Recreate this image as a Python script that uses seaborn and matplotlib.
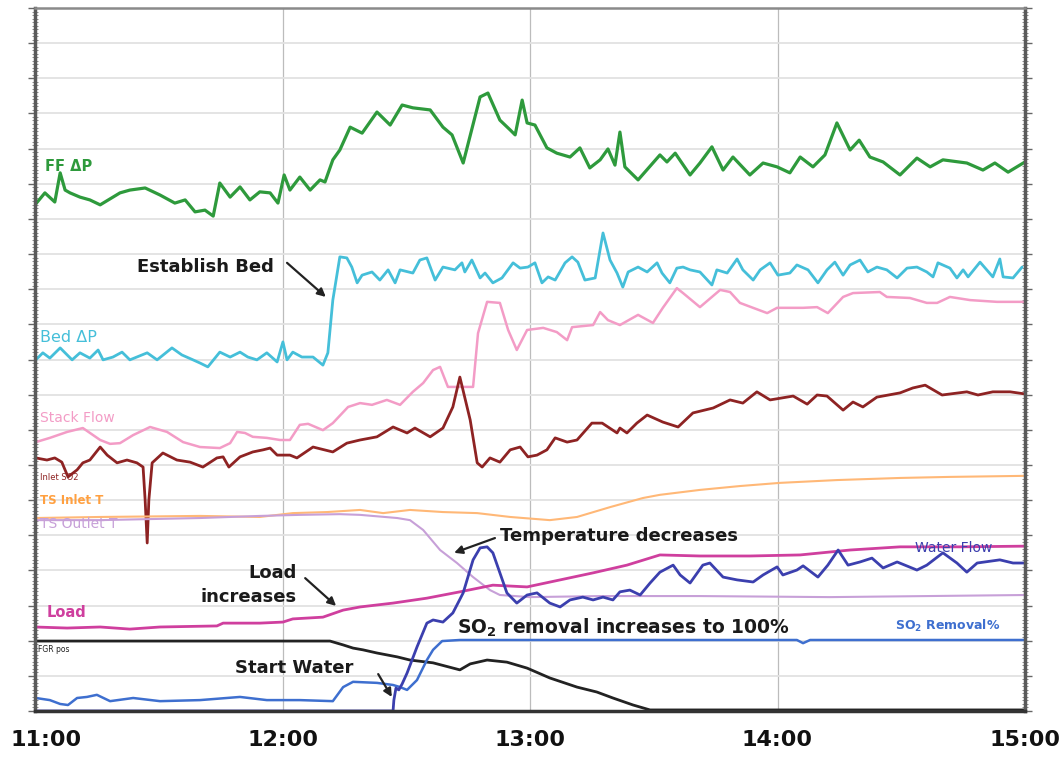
import matplotlib
matplotlib.use("Agg")
import matplotlib.pyplot as plt
from matplotlib.ticker import MultipleLocator, NullFormatter
from matplotlib.transforms import ScaledTranslation
import seaborn as sns

# ---------------- data (x: minutes after 11:00, y: chart units 0-20) ----------------
ff_t = [0, 2.4, 4.8, 6.1, 7.3, 8.5, 10.9, 13.3, 15.8, 18.2, 20.6, 23.0, 26.7, 30.3, 33.9, 36.4,
        38.8, 41.2, 43.2, 44.8, 47.3, 49.7, 52.1, 54.5, 57.0, 58.9, 60.4, 61.8, 64.2, 66.7, 69.1,
        70.3, 72.2, 73.9, 76.4, 79.3, 82.9, 86.1, 89.0, 91.6, 95.8, 98.9, 101.1, 103.8, 107.9,
        109.8, 112.7, 115.2, 116.4, 118.1, 119.3, 121.2, 124.1, 126.5, 129.7, 132.1, 134.5, 137.0,
        138.9, 140.6, 141.8, 143.0, 146.2, 151.5, 153.2, 155.2, 158.8, 161.2, 164.1, 166.8, 169.2,
        173.3, 176.5, 179.9, 183.0, 185.5, 188.6, 191.5, 194.4, 197.6, 199.8, 202.4, 205.6, 209.7,
        213.8, 217.0, 220.1, 225.9, 229.8, 232.7, 235.9, 240.0]
ff_v = [14.40, 14.74, 14.48, 15.31, 14.82, 14.74, 14.62, 14.54, 14.40, 14.57, 14.74, 14.82, 14.88,
        14.68, 14.45, 14.54, 14.20, 14.25, 14.08, 15.02, 14.62, 14.91, 14.54, 14.77, 14.74, 14.45,
        15.25, 14.82, 15.19, 14.82, 15.11, 15.05, 15.68, 15.96, 16.61, 16.44, 17.04, 16.67, 17.24,
        17.16, 17.10, 16.61, 16.39, 15.59, 17.47, 17.58, 16.81, 16.53, 16.39, 17.38, 16.73, 16.67,
        16.02, 15.87, 15.76, 16.02, 15.45, 15.68, 15.99, 15.53, 16.47, 15.48, 15.11, 15.82, 15.62,
        15.87, 15.25, 15.59, 16.05, 15.39, 15.76, 15.25, 15.59, 15.48, 15.31, 15.76, 15.48, 15.82,
        16.73, 15.96, 16.24, 15.76, 15.62, 15.25, 15.73, 15.48, 15.68, 15.59, 15.39, 15.59, 15.33,
        15.62]

bed_t = [0.2, 1.9, 3.6, 6.1, 7.8, 9.0, 10.9, 13.3, 15.3, 16.5, 18.9, 21.1, 23.0, 27.2, 29.6, 33.2,
         35.6, 38.3, 40.0, 41.9, 44.8, 47.3, 49.7, 51.6, 53.8, 56.2, 58.7, 60.1, 61.1, 62.5, 64.7,
         67.4, 69.8, 71.0, 72.2, 73.9, 75.6, 76.8, 78.1, 79.3, 81.7, 83.6, 85.6, 87.3, 88.5, 91.6,
         93.3, 95.0, 97.0, 98.9, 101.8, 103.5, 104.2, 105.9, 107.9, 109.1, 111.0, 113.2, 115.9,
         117.6, 119.5, 121.2, 122.9, 124.4, 126.1, 128.5, 130.2, 131.6, 133.3, 135.8, 137.7, 139.4,
         141.1, 142.5, 143.8, 146.2, 148.4, 150.8, 152.0, 153.9, 155.6, 157.1, 158.8, 161.2, 164.1,
         165.3, 167.8, 170.2, 171.6, 174.1, 175.8, 178.2, 180.1, 183.0, 184.7, 187.4, 189.8, 192.0,
         193.9, 195.9, 197.6, 200.0, 201.9, 204.1, 206.5, 209.0, 211.4, 213.8, 216.2, 217.7, 218.9,
         221.8, 223.5, 225.0, 226.2, 229.1, 232.2, 233.9, 234.7, 237.1, 239.3]
bed_v = [9.99, 10.19, 10.04, 10.33, 10.13, 9.99, 10.19, 10.04, 10.27, 9.99, 10.07, 10.21, 9.99,
         10.19, 9.99, 10.33, 10.13, 9.99, 9.90, 9.79, 10.21, 10.07, 10.21, 10.07, 9.99, 10.19, 9.93,
         10.50, 9.99, 10.21, 10.07, 10.07, 9.84, 10.19, 11.69, 12.92, 12.89, 12.63, 12.18, 12.40,
         12.49, 12.26, 12.55, 12.18, 12.55, 12.46, 12.83, 12.89, 12.26, 12.63, 12.55, 12.75, 12.49,
         12.83, 12.32, 12.46, 12.18, 12.32, 12.75, 12.60, 12.63, 12.75, 12.18, 12.35, 12.26, 12.75,
         12.92, 12.77, 12.26, 12.32, 13.60, 12.83, 12.46, 12.06, 12.49, 12.63, 12.49, 12.75, 12.46,
         12.18, 12.60, 12.63, 12.55, 12.49, 12.12, 12.55, 12.46, 12.86, 12.55, 12.26, 12.55, 12.75,
         12.40, 12.46, 12.69, 12.55, 12.18, 12.55, 12.77, 12.40, 12.69, 12.83, 12.49, 12.63, 12.55,
         12.32, 12.60, 12.63, 12.49, 12.35, 12.75, 12.60, 12.32, 12.55, 12.35, 12.77, 12.35, 12.86,
         12.35, 12.32, 12.63]

stack_t = [0.2, 3.6, 7.8, 11.6, 15.8, 18.2, 20.6, 23.8, 27.9, 32.0, 35.9, 40.0, 44.8, 47.3, 49.0,
           50.9, 52.8, 56.2, 59.4, 61.8, 64.2, 66.2, 69.8, 72.2, 75.9, 78.8, 81.7, 85.3, 88.5, 91.6,
           94.1, 96.5, 98.2, 100.1, 102.3, 104.7, 106.2, 107.4, 109.6, 112.7, 114.7, 116.8, 119.3,
           123.2, 126.5, 129.0, 130.2, 135.3, 137.0, 138.9, 141.8, 146.2, 149.8, 152.2, 155.6, 157.1,
           161.2, 166.1, 168.5, 170.9, 177.5, 179.9, 186.2, 189.6, 192.2, 195.9, 198.3, 204.8, 206.5,
           212.1, 216.2, 218.7, 221.8, 226.7, 233.2, 240.0]
stack_v = [7.65, 7.77, 7.94, 8.05, 7.71, 7.60, 7.62, 7.85, 8.08, 7.94, 7.65, 7.51, 7.48, 7.62, 7.94,
           7.91, 7.80, 7.77, 7.71, 7.71, 8.14, 8.17, 7.99, 8.19, 8.65, 8.76, 8.71, 8.85, 8.71, 9.08,
           9.33, 9.70, 9.79, 9.22, 9.22, 9.22, 9.22, 10.75, 11.64, 11.61, 10.84, 10.27, 10.84, 10.90,
           10.78, 10.55, 10.92, 10.98, 11.35, 11.12, 10.98, 11.27, 11.04, 11.47, 12.03, 11.89, 11.49,
           11.98, 11.92, 11.61, 11.32, 11.47, 11.47, 11.49, 11.32, 11.78, 11.89, 11.92, 11.78, 11.75,
           11.61, 11.61, 11.78, 11.69, 11.64, 11.64]

so2in_t = [0.2, 2.9, 4.8, 6.5, 8.0, 10.2, 11.6, 13.3, 15.8, 17.5, 19.9, 22.3, 24.7, 26.2, 26.7,
           27.2, 27.6, 28.4, 31.0, 34.4, 37.6, 40.7, 44.1, 45.6, 47.0, 49.7, 52.8, 55.3, 57.0, 58.7,
           61.8, 63.5, 67.4, 72.2, 75.6, 78.8, 82.9, 86.8, 90.2, 92.1, 95.8, 98.9, 101.3, 103.0,
           105.5, 107.2, 108.4, 110.3, 112.7, 115.2, 117.6, 119.5, 121.7, 124.1, 126.1, 129.0, 131.4,
           135.0, 137.5, 141.1, 141.8, 143.5, 145.9, 148.4, 152.2, 155.9, 159.5, 164.4, 168.5, 171.6,
           175.0, 178.2, 183.8, 187.2, 189.6, 192.0, 195.9, 198.3, 200.7, 204.1, 209.7, 212.8, 215.8,
           219.9, 225.9, 228.6, 232.2, 236.4, 240.0]
so2in_v = [7.20, 7.14, 7.20, 7.08, 6.66, 6.86, 7.06, 7.14, 7.51, 7.28, 7.06, 7.14, 7.06, 6.94, 6.00,
           4.78, 6.00, 7.06, 7.34, 7.14, 7.08, 6.94, 7.20, 7.23, 6.94, 7.23, 7.37, 7.43, 7.48, 7.28,
           7.28, 7.20, 7.51, 7.37, 7.62, 7.71, 7.80, 8.08, 7.91, 8.05, 7.80, 8.05, 8.65, 9.50, 8.28,
           7.06, 6.94, 7.20, 7.08, 7.43, 7.51, 7.23, 7.28, 7.43, 7.77, 7.65, 7.71, 8.19, 8.19, 7.91,
           8.05, 7.91, 8.19, 8.42, 8.22, 8.08, 8.48, 8.62, 8.85, 8.76, 9.08, 8.85, 8.96, 8.73, 8.99,
           8.96, 8.56, 8.79, 8.65, 8.93, 9.05, 9.19, 9.27, 8.99, 9.08, 8.99, 9.08, 9.08, 9.02]

tsin_t = [0, 15.8, 40.0, 54.5, 62.5, 70.8, 78.8, 84.4, 90.9, 98.9, 107.2, 115.2, 124.8, 131.4,
          139.4, 147.4, 151.5, 161.2, 170.9, 180.6, 194.4, 209.7, 221.8, 240.0]
tsin_v = [5.49, 5.52, 5.55, 5.52, 5.63, 5.66, 5.72, 5.63, 5.72, 5.66, 5.63, 5.52, 5.43, 5.52, 5.80,
          6.06, 6.15, 6.29, 6.40, 6.49, 6.57, 6.63, 6.66, 6.69]

tsout_t = [0, 15.8, 40.0, 54.5, 64.2, 73.9, 78.8, 87.8, 90.9, 94.1, 98.2, 102.3, 106.2, 110.3,
           112.7, 120.0, 137.0, 161.2, 192.7, 240.0]
tsout_v = [5.43, 5.43, 5.49, 5.55, 5.58, 5.60, 5.58, 5.49, 5.43, 5.15, 4.58, 4.21, 3.81, 3.44,
           3.30, 3.24, 3.27, 3.27, 3.24, 3.30]

load_t = [0, 7.8, 15.8, 23.0, 30.3, 44.1, 45.6, 54.5, 60.1, 62.5, 69.8, 74.7, 78.8, 86.8, 95.0,
          103.0, 111.0, 119.3, 127.3, 135.3, 143.5, 151.5, 161.2, 173.3, 185.5, 197.6, 209.7,
          224.2, 240.0]
load_v = [2.39, 2.36, 2.39, 2.33, 2.39, 2.42, 2.50, 2.50, 2.53, 2.62, 2.67, 2.87, 2.96, 3.07, 3.21,
          3.39, 3.58, 3.53, 3.73, 3.93, 4.15, 4.44, 4.41, 4.41, 4.44, 4.58, 4.67, 4.67, 4.69]

water_t = [0, 86.8, 87.0, 87.5, 88.2, 89.0, 90.2, 92.6, 95.0, 96.5, 98.9, 101.3, 103.8, 106.2,
           107.9, 109.6, 111.0, 112.7, 114.4, 116.8, 119.3, 121.7, 124.8, 127.3, 129.7, 132.8,
           135.3, 137.7, 140.1, 141.8, 144.2, 146.7, 149.1, 151.5, 154.7, 156.4, 158.8, 161.9,
           163.6, 166.8, 170.2, 174.1, 176.5, 179.9, 181.3, 184.7, 186.2, 189.8, 192.2, 194.7,
           197.1, 200.0, 202.9, 205.6, 209.0, 213.8, 216.2, 220.1, 223.5, 225.9, 228.4, 233.9,
           237.1, 240.0]
water_v = [0, 0, 0.31, 0.65, 0.60, 0.77, 1.08, 1.82, 2.50, 2.59, 2.53, 2.79, 3.36, 4.30, 4.64,
           4.67, 4.50, 3.93, 3.36, 3.07, 3.30, 3.36, 3.07, 2.96, 3.16, 3.24, 3.16, 3.24, 3.16, 3.39,
           3.44, 3.30, 3.64, 3.95, 4.15, 3.87, 3.64, 4.15, 4.21, 3.81, 3.73, 3.67, 3.87, 4.10, 3.87,
           4.01, 4.13, 3.81, 4.15, 4.58, 4.15, 4.24, 4.35, 4.07, 4.24, 4.01, 4.15, 4.50, 4.21, 3.95,
           4.21, 4.30, 4.21, 4.21]

so2rem_t = [0.2, 3.6, 6.1, 8.0, 10.2, 12.6, 15.0, 18.2, 23.8, 30.3, 40.0, 49.7, 56.2, 64.2, 72.2,
            74.7, 77.1, 82.9, 86.8, 88.5, 90.2, 92.6, 95.0, 96.5, 98.7, 103.0, 184.7, 186.2, 187.9,
            240.0]
so2rem_v = [0.37, 0.31, 0.20, 0.17, 0.37, 0.40, 0.46, 0.28, 0.37, 0.28, 0.31, 0.40, 0.31, 0.31,
            0.28, 0.68, 0.83, 0.80, 0.74, 0.68, 0.60, 0.88, 1.45, 1.74, 1.99, 2.02, 2.02, 1.93, 2.02,
            2.02]

fgr_t = [0, 40.0, 71.5, 74.7, 77.1, 79.5, 82.9, 87.8, 90.9, 96.5, 103.0, 105.5, 109.6, 114.4,
         119.3, 124.8, 131.4, 136.2, 140.1, 145.0, 149.1, 161.2, 240.0]
fgr_v = [1.99, 1.99, 1.99, 1.88, 1.79, 1.74, 1.65, 1.54, 1.45, 1.37, 1.17, 1.34, 1.45, 1.39, 1.22,
         0.94, 0.68, 0.54, 0.37, 0.17, 0.03, 0.03, 0.03]

hour_ticks = [0, 60, 120, 180, 240]
hour_labels = ["11:00", "12:00", "13:00", "14:00", "15:00"]

# ---------------- styling ----------------
sns.set_style("white")
plt.rcParams['font.family'] = ['DejaVu Sans']
plt.rcParams['mathtext.fontset'] = 'dejavusans'

fig = plt.figure(figsize=(10.62, 7.63), dpi=100)
ax = fig.add_axes([35 / 1062, 1 - 711 / 763, 990 / 1062, 703 / 763])

series = [
    (ff_t, ff_v, "#2e9a3c", 2.3),
    (bed_t, bed_v, "#45bfd9", 2.0),
    (stack_t, stack_v, "#f39cc6", 1.8),
    (so2in_t, so2in_v, "#8e2323", 2.0),
    (tsin_t, tsin_v, "#ffb877", 1.5),
    (tsout_t, tsout_v, "#c7a0d8", 1.5),
    (load_t, load_v, "#cf3f9e", 2.0),
    (fgr_t, fgr_v, "#222222", 2.0),
    (so2rem_t, so2rem_v, "#3e6fcf", 1.8),
    (water_t, water_v, "#3b3fae", 2.0),
]
for t, v, c, lw in series:
    sns.lineplot(x=t, y=v, ax=ax, color=c, linewidth=lw, estimator=None, sort=False,
                 solid_joinstyle='round', solid_capstyle='round')

ax.set_xlim(0, 240)
ax.set_ylim(0, 20)
ax.set_xticks(hour_ticks)
ax.set_xticklabels(hour_labels, fontsize=16, fontweight='bold', color='#111111')
ax.yaxis.set_major_locator(MultipleLocator(1))
ax.yaxis.set_minor_locator(MultipleLocator(0.1))
ax.yaxis.set_major_formatter(NullFormatter())
ax.tick_params(axis='y', which='major', direction='out', length=5, width=1.0,
               color='#666666', left=True, right=True)
ax.tick_params(axis='y', which='minor', direction='inout', length=4, width=0.6,
               color='#777777', left=True, right=True)
ax.tick_params(axis='x', which='major', length=0, pad=14)
# first hour label sits slightly right of its tick, as in the original
first = ax.get_xticklabels()[0]
first.set_transform(first.get_transform() + ScaledTranslation(0.11, 0, fig.dpi_scale_trans))

ax.grid(axis='y', color='#e2e2e2', linewidth=1.3)
ax.grid(axis='x', color='#bcbcbc', linewidth=0.9)
ax.set_axisbelow(True)

for side, (c, w) in {'left': ('#5a5a5a', 2.5), 'right': ('#5a5a5a', 2.5),
                     'top': ('#8a8a8a', 1.8), 'bottom': ('#333333', 2.5)}.items():
    ax.spines[side].set_visible(True)
    ax.spines[side].set_color(c)
    ax.spines[side].set_linewidth(w)

ax.set_xlabel("")
ax.set_ylabel("")

# ---------------- series labels ----------------
ax.text(2.4, 15.48, "FF ΔP", color="#2e9a3c", fontsize=10.5, fontweight='bold', va='center')
ax.text(1.2, 10.64, "Bed ΔP", color="#45bfd9", fontsize=11.5, va='center')
ax.text(1.2, 8.34, "Stack Flow", color="#f39cc6", fontsize=10, va='center')
ax.text(1.2, 6.63, "Inlet SO2", color="#8e2323", fontsize=6, va='center')
ax.text(1.2, 6.00, "TS Inlet T", color="#ffa040", fontsize=8.5, fontweight='bold', va='center')
ax.text(1.2, 5.32, "TS Outlet T", color="#c7a0d8", fontsize=10, va='center')
ax.text(2.9, 2.79, "Load", color="#cf3f9e", fontsize=10.5, fontweight='bold', va='center')
ax.text(0.7, 1.76, "FGR pos", color="#222222", fontsize=5.5, va='center')
ax.text(213.3, 4.64, "Water Flow", color="#3b3fae", fontsize=10, va='center')
ax.text(208.5, 2.42, r"SO$_\mathbf{2}$ Removal%", color="#3e6fcf", fontsize=9,
        fontweight='bold', va='center')

# ---------------- annotations ----------------
arrow = dict(arrowstyle='-|>', color='#222222', lw=1.6, mutation_scale=12, shrinkA=0, shrinkB=0)
ax.text(24.7, 12.63, "Establish Bed", fontsize=13, fontweight='bold', color='#1a1a1a',
        va='center', ha='left')
ax.annotate("", xy=(70.5, 11.78), xytext=(61.1, 12.75), arrowprops=arrow)

ax.text(112.7, 4.98, "Temperature decreases", fontsize=13, fontweight='bold',
        color='#1a1a1a', va='center', ha='left')
ax.annotate("", xy=(101.6, 4.50), xytext=(111.5, 4.92), arrowprops=arrow)

ax.text(63.5, 3.58, "Load\nincreases", fontsize=13, fontweight='bold', color='#1a1a1a',
        va='center', ha='right', multialignment='right', linespacing=1.4)
ax.annotate("", xy=(73.0, 2.99), xytext=(65.5, 3.78), arrowprops=arrow)

ax.text(102.3, 2.36, r"SO$_\mathbf{2}$ removal increases to 100%", fontsize=13.5,
        fontweight='bold', color='#1a1a1a', va='center', ha='left')

ax.text(48.5, 1.22, "Start Water", fontsize=13, fontweight='bold', color='#1a1a1a',
        va='center', ha='left')
ax.annotate("", xy=(86.5, 0.40), xytext=(83.2, 1.05), arrowprops=arrow)

fig.savefig("out.png", dpi=100)
